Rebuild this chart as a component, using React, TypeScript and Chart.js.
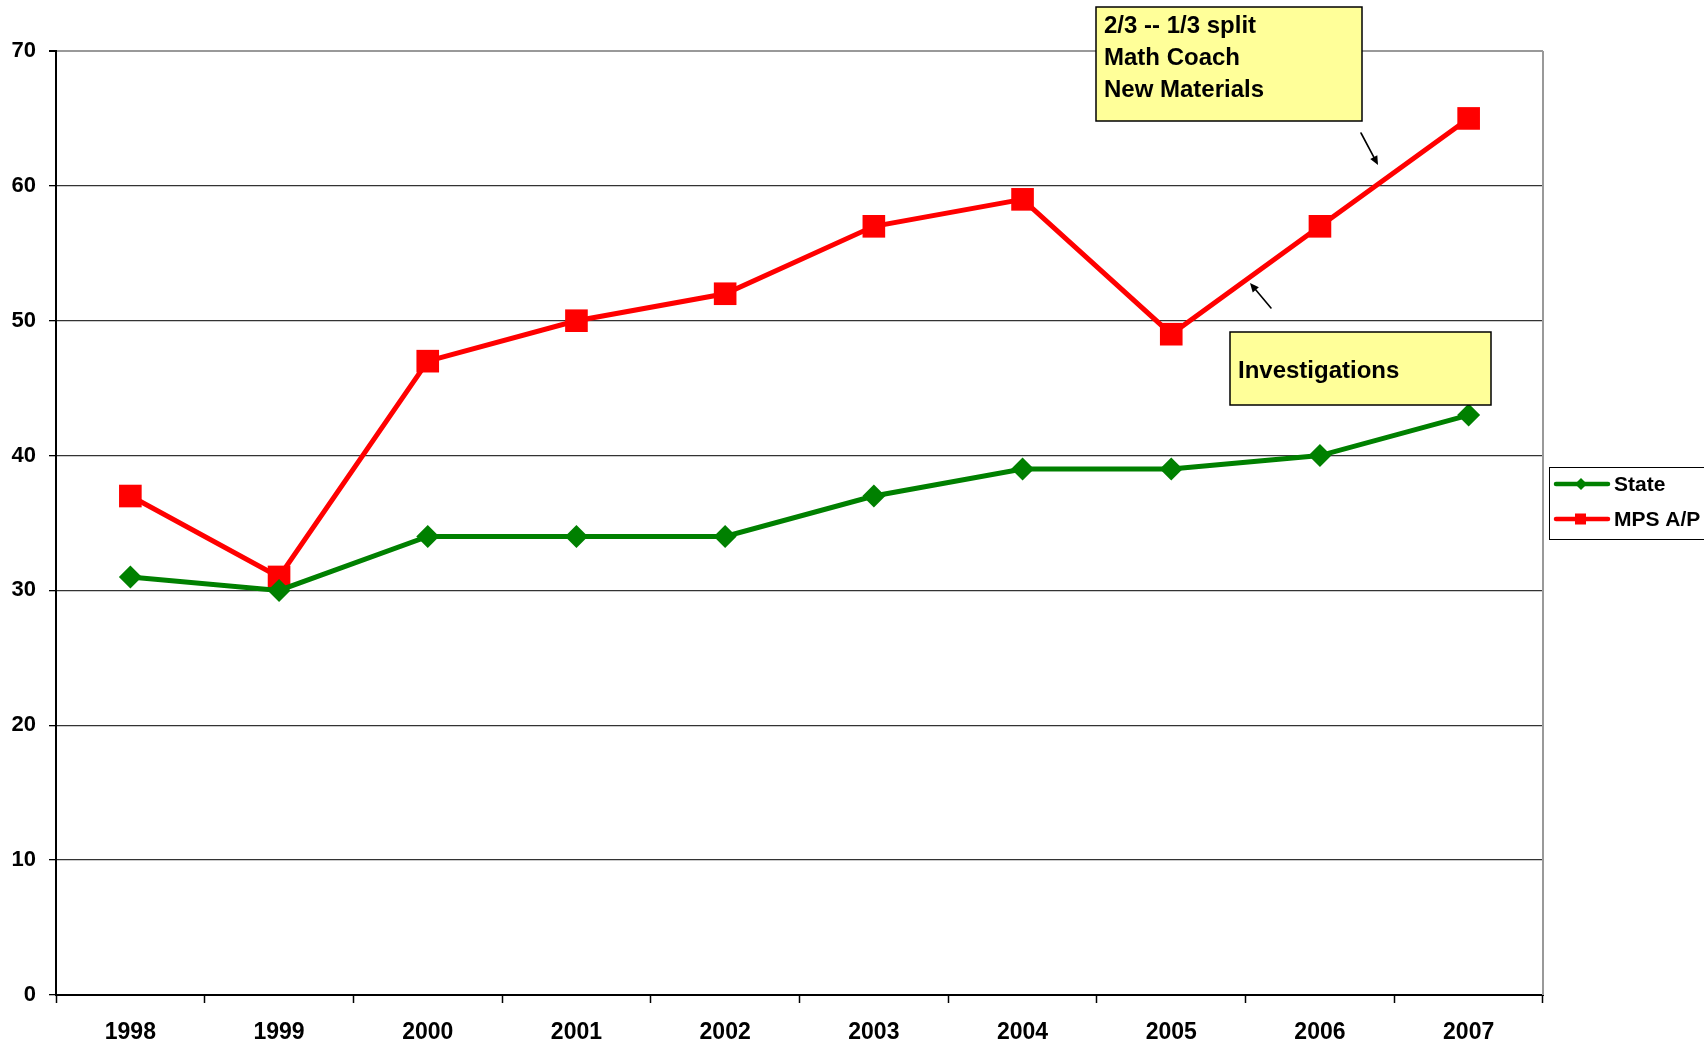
import React, { useEffect, useRef } from "react";
import { Chart, registerables } from "chart.js";

Chart.register(...registerables);

const years = ["1998", "1999", "2000", "2001", "2002", "2003", "2004", "2005", "2006", "2007"];
const stateValues = [31, 30, 34, 34, 34, 37, 39, 39, 40, 43];
const mpsValues = [37, 31, 47, 50, 52, 57, 59, 49, 57, 65];
const yTicks = [0, 10, 20, 30, 40, 50, 60, 70];
const seriesNames = ["State", "MPS A/P"];
const noteTop = ["2/3 -- 1/3 split", "Math Coach", "New Materials"];
const noteBottom = ["Investigations"];

const FONT = "'Liberation Sans', Arial, sans-serif";
const GREEN = "#008000";
const RED = "#ff0000";

function arrow(ctx: CanvasRenderingContext2D, x1: number, y1: number, x2: number, y2: number) {
  const ang = Math.atan2(y2 - y1, x2 - x1);
  const hl = 9;
  const hw = 4;
  ctx.save();
  ctx.strokeStyle = "#000";
  ctx.fillStyle = "#000";
  ctx.lineWidth = 1.6;
  ctx.beginPath();
  ctx.moveTo(x1, y1);
  ctx.lineTo(x2 - Math.cos(ang) * hl * 0.8, y2 - Math.sin(ang) * hl * 0.8);
  ctx.stroke();
  ctx.beginPath();
  ctx.moveTo(x2, y2);
  ctx.lineTo(x2 - Math.cos(ang) * hl - Math.sin(ang) * hw, y2 - Math.sin(ang) * hl + Math.cos(ang) * hw);
  ctx.lineTo(x2 - Math.cos(ang) * hl + Math.sin(ang) * hw, y2 - Math.sin(ang) * hl - Math.cos(ang) * hw);
  ctx.closePath();
  ctx.fill();
  ctx.restore();
}

const overlayPlugin = {
  id: "overlay",
  afterDraw(chart: any) {
    const ctx: CanvasRenderingContext2D = chart.ctx;
    const a = chart.chartArea;
    ctx.save();
    // right border
    ctx.strokeStyle = "#999";
    ctx.lineWidth = 2;
    ctx.beginPath();
    ctx.moveTo(a.right, a.top);
    ctx.lineTo(a.right, a.bottom);
    ctx.stroke();

    // legend
    ctx.fillStyle = "#fff";
    ctx.fillRect(1549.5, 467.5, 200, 72);
    ctx.strokeStyle = "#000";
    ctx.lineWidth = 1;
    ctx.strokeRect(1549.5, 467.5, 200, 72);
    const rows = [
      { name: seriesNames[0], color: GREEN, y: 484, shape: "diamond" },
      { name: seriesNames[1], color: RED, y: 519, shape: "square" },
    ];
    rows.forEach((r) => {
      ctx.strokeStyle = r.color;
      ctx.lineWidth = 4.5;
      ctx.lineCap = "round";
      ctx.beginPath();
      ctx.moveTo(1556, r.y);
      ctx.lineTo(1608, r.y);
      ctx.stroke();
      ctx.fillStyle = r.color;
      if (r.shape === "diamond") {
        ctx.beginPath();
        ctx.moveTo(1581, r.y - 6);
        ctx.lineTo(1587, r.y);
        ctx.lineTo(1581, r.y + 6);
        ctx.lineTo(1575, r.y);
        ctx.closePath();
        ctx.fill();
      } else {
        ctx.fillRect(1575, r.y - 5.5, 11, 11);
      }
      ctx.fillStyle = "#000";
      ctx.font = `bold 21px ${FONT}`;
      ctx.textBaseline = "middle";
      ctx.textAlign = "left";
      ctx.fillText(r.name, 1614, r.y + 1);
    });

    // annotation box 1
    ctx.fillStyle = "#ffff99";
    ctx.fillRect(1096, 7, 266, 114);
    ctx.strokeStyle = "#000";
    ctx.lineWidth = 1.5;
    ctx.strokeRect(1096, 7, 266, 114);
    ctx.fillStyle = "#000";
    ctx.font = `bold 24px ${FONT}`;
    ctx.textBaseline = "alphabetic";
    ctx.textAlign = "left";
    noteTop.forEach((t, i) => ctx.fillText(t, 1104, 33 + i * 32));

    // annotation box 2
    ctx.fillStyle = "#ffff99";
    ctx.fillRect(1230, 332, 261, 73);
    ctx.strokeRect(1230, 332, 261, 73);
    ctx.fillStyle = "#000";
    noteBottom.forEach((t) => ctx.fillText(t, 1238, 378));

    arrow(ctx, 1361, 133, 1378, 165);
    arrow(ctx, 1271, 308, 1250, 283);
    ctx.restore();
  },
};

export default function App() {
  const ref = useRef<HTMLCanvasElement | null>(null);
  useEffect(() => {
    document.body.style.margin = "0";
    const canvas = ref.current!;
    const chart = new Chart(canvas, {
      type: "line",
      data: {
        labels: years,
        datasets: [
          {
            label: seriesNames[0],
            data: stateValues,
            borderColor: GREEN,
            backgroundColor: GREEN,
            borderWidth: 5,
            pointStyle: "rectRot",
            pointRadius: 11.5,
            pointBorderWidth: 0,
            tension: 0,
          },
          {
            label: seriesNames[1],
            data: mpsValues,
            borderColor: RED,
            backgroundColor: RED,
            borderWidth: 5,
            pointStyle: "rect",
            pointRadius: 16,
            pointBorderWidth: 0,
            tension: 0,
          },
        ],
      },
      options: {
        responsive: false,
        animation: false,
        devicePixelRatio: 1,
        layout: { padding: { top: 51, right: 161, left: 0, bottom: 0 } },
        plugins: { legend: { display: false }, tooltip: { enabled: false } },
        scales: {
          x: {
            offset: true,
            grid: { offset: true, drawOnChartArea: false, drawTicks: true, tickLength: 8, tickColor: "#000", tickWidth: 1.5 },
            border: { color: "#000", width: 2 },
            ticks: { color: "#000", font: { family: FONT, size: 23, weight: "bold" }, padding: 16, maxRotation: 0 },
            afterFit: (s: any) => { s.height = 50; },
          },
          y: {
            min: 0,
            max: 70,
            afterBuildTicks: (s: any) => { s.ticks = yTicks.map((v) => ({ value: v })); },
            grid: {
              color: (c: any) => (c.tick && c.tick.value === 70 ? "#999" : "#333"),
              lineWidth: (c: any) => (c.tick && c.tick.value === 70 ? 2 : 1.3),
              tickLength: 7,
              tickColor: "#000",
            },
            border: { color: "#000", width: 2 },
            ticks: { color: "#000", font: { family: FONT, size: 22, weight: "bold" }, padding: 13 },
            afterFit: (s: any) => { s.width = 56; },
          },
        },
      },
      plugins: [overlayPlugin],
    } as any);
    return () => chart.destroy();
  }, []);
  return (
    <div style={{ position: "fixed", left: 0, top: 0, width: 1704, height: 1045, background: "#fff" }}>
      <canvas ref={ref} width={1704} height={1045} style={{ width: 1704, height: 1045, display: "block" }} />
    </div>
  );
}
